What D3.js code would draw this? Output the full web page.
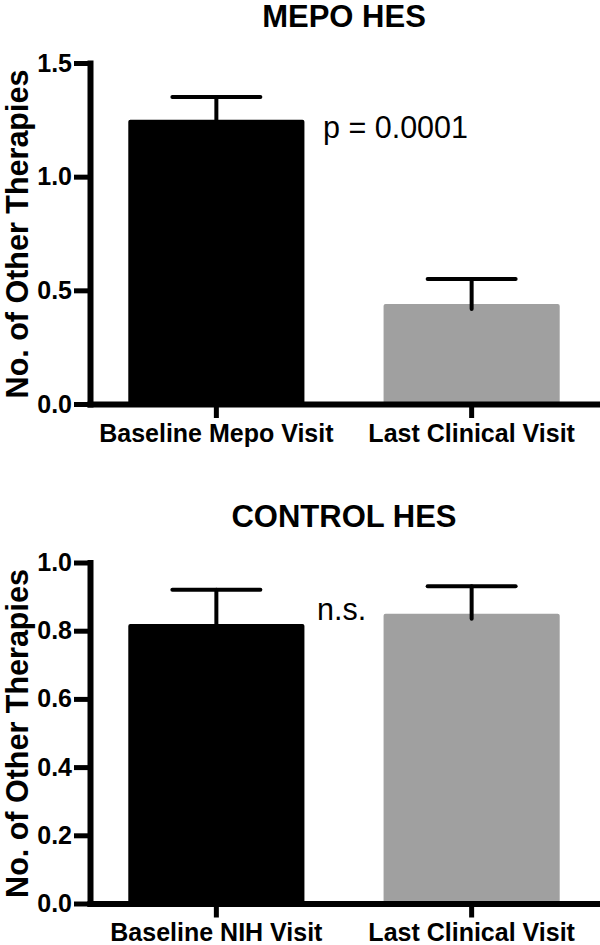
<!DOCTYPE html>
<meta charset="utf-8">
<style>
body {
  margin: 0;
  background: #fff;
  font-family: "Liberation Sans", Arial, sans-serif;
}
.axis path,
.axis line {
  fill: none;
  stroke: #000;
}
.axis path {
  stroke-width: 6;
  stroke-linecap: square;
}
.axis line {
  stroke-width: 5;
}
.axis text {
  font-family: "Liberation Sans", Arial, sans-serif;
  font-weight: bold;
  fill: #000;
}
</style>
<body>
<div id="chart"></div>
<script src="https://cdn.jsdelivr.net/npm/d3@7"></script>
<script>

// top panel: mepolizumab-treated HES
const mepoCategories = ["Baseline Mepo Visit", "Last Clinical Visit"];
const mepoMeans = [1.25, 0.44];
const mepoSem = [0.10, 0.11];
const mepoTicks = [0, 0.5, 1.0, 1.5];

// bottom panel: control HES
const controlCategories = ["Baseline NIH Visit", "Last Clinical Visit"];
const controlMeans = [0.82, 0.85];
const controlSem = [0.10, 0.08];
const controlTicks = [0, 0.2, 0.4, 0.6, 0.8, 1.0];

const barColors = ["#000000", "#a0a0a0"];

const width = 600;
const height = 945;
const margin = {top: 63, right: 2, left: 90}; // per panel

const svg = d3.select("#chart")
  .append("svg")
  .attr("width", width)
  .attr("height", height)
  .attr("viewBox", [0, 0, width, height]);

function drawPanel(offsetY, title, categories, means, sem, ticks, note, noteX, noteY) {
  const g = svg.append("g").attr("transform", `translate(0,${offsetY})`);
  const yBottom = 404;

  const x = d3.scaleBand()
    .domain(categories)
    .range([margin.left, width - margin.right])
    .paddingInner(0.31)
    .paddingOuter(0.15);

  const y = d3.scaleLinear()
    .domain([0, d3.max(ticks)])
    .range([yBottom, margin.top]);

  // bars
  g.append("g")
    .selectAll("rect")
    .data(categories)
    .join("rect")
      .attr("x", d => x(d))
      .attr("y", (d, i) => y(means[i]))
      .attr("width", x.bandwidth())
      .attr("height", (d, i) => y(0) - y(means[i]))
      .attr("rx", 2)
      .attr("fill", (d, i) => barColors[i]);

  // error bars (upper only)
  const capHalf = 44;
  const err = g.append("g")
    .attr("stroke", "#000")
    .attr("stroke-width", 4)
    .attr("stroke-linecap", "round");

  err.selectAll("line.stem")
    .data(categories)
    .join("line")
      .attr("class", "stem")
      .attr("x1", d => x(d) + x.bandwidth() / 2)
      .attr("x2", d => x(d) + x.bandwidth() / 2)
      .attr("y1", (d, i) => y(means[i]) + 5)
      .attr("y2", (d, i) => y(means[i] + sem[i]));

  err.selectAll("line.cap")
    .data(categories)
    .join("line")
      .attr("class", "cap")
      .attr("x1", d => x(d) + x.bandwidth() / 2 - capHalf)
      .attr("x2", d => x(d) + x.bandwidth() / 2 + capHalf)
      .attr("y1", (d, i) => y(means[i] + sem[i]))
      .attr("y2", (d, i) => y(means[i] + sem[i]));

  // axes
  g.append("g")
    .attr("class", "axis")
    .attr("transform", `translate(${margin.left},0)`)
    .call(d3.axisLeft(y)
      .tickValues(ticks)
      .tickFormat(d3.format(".1f"))
      .tickSize(16)
      .tickSizeOuter(0)
      .tickPadding(2))
    .selectAll("text")
      .attr("font-size", "25px");

  g.append("g")
    .attr("class", "axis")
    .attr("transform", `translate(0,${yBottom})`)
    .call(d3.axisBottom(x)
      .tickSize(14)
      .tickSizeOuter(0)
      .tickPadding(6))
    .selectAll("text")
      .attr("font-size", "25px");

  // y axis title
  g.append("text")
    .attr("transform", `translate(28,${yBottom - 170}) rotate(-90)`)
    .attr("text-anchor", "middle")
    .attr("font-weight", "bold")
    .attr("font-size", "30.5px")
    .text("No. of Other Therapies");

  // panel title
  g.append("text")
    .attr("x", (margin.left + width - margin.right) / 2)
    .attr("y", 27)
    .attr("text-anchor", "middle")
    .attr("font-weight", "bold")
    .attr("font-size", "31px")
    .text(title);

  // significance note
  g.append("text")
    .attr("x", noteX)
    .attr("y", noteY)
    .attr("font-size", "30.5px")
    .text(note);
}

drawPanel(0, "MEPO HES", mepoCategories, mepoMeans, mepoSem, mepoTicks, "p = 0.0001", 323, 138);
drawPanel(499.5, "CONTROL HES", controlCategories, controlMeans, controlSem, controlTicks, "n.s.", 317, 120.5);

</script>
